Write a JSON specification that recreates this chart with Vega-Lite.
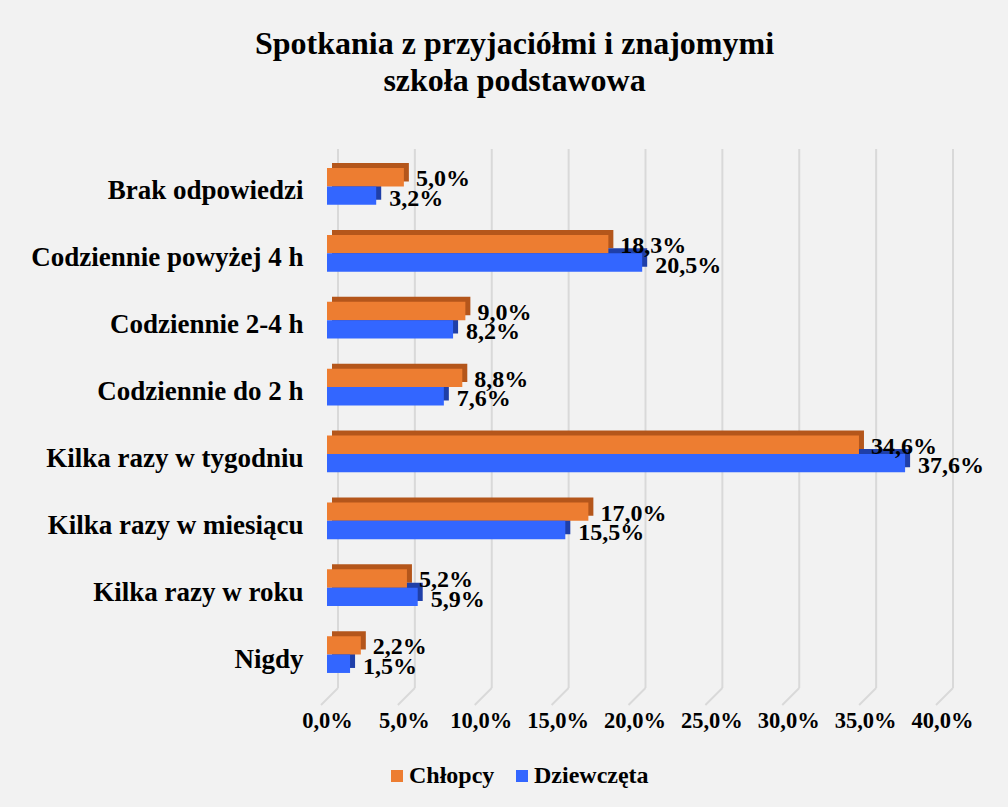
{
  "$schema": "https://vega.github.io/schema/vega-lite/v6.json",
  "autosize": {"type": "none"},
  "width": 615,
  "height": 535,
  "padding": {"left": 327, "top": 153, "right": 66, "bottom": 119},
  "background": "#f2f2f2",
  "title": {
    "text": ["Spotkania z przyjaciółmi i znajomymi", "szkoła podstawowa"],
    "font": "Liberation Serif",
    "fontSize": 32,
    "fontWeight": "bold",
    "color": "#000000",
    "lineHeight": 37,
    "anchor": "middle",
    "frame": "group",
    "dx": -120,
    "offset": 50
  },
  "datasets": {
    "siatka": [
      {"v": 0}, {"v": 0.05}, {"v": 0.1}, {"v": 0.15}, {"v": 0.2},
      {"v": 0.25}, {"v": 0.3}, {"v": 0.35}, {"v": 0.4}
    ]
  },
  "data": {
    "values": [
      {"kategoria": "Brak odpowiedzi", "grupa": "Chłopcy", "wartosc": 0.050},
      {"kategoria": "Brak odpowiedzi", "grupa": "Dziewczęta", "wartosc": 0.032},
      {"kategoria": "Codziennie powyżej 4 h", "grupa": "Chłopcy", "wartosc": 0.183},
      {"kategoria": "Codziennie powyżej 4 h", "grupa": "Dziewczęta", "wartosc": 0.205},
      {"kategoria": "Codziennie 2-4 h", "grupa": "Chłopcy", "wartosc": 0.090},
      {"kategoria": "Codziennie 2-4 h", "grupa": "Dziewczęta", "wartosc": 0.082},
      {"kategoria": "Codziennie do 2 h", "grupa": "Chłopcy", "wartosc": 0.088},
      {"kategoria": "Codziennie do 2 h", "grupa": "Dziewczęta", "wartosc": 0.076},
      {"kategoria": "Kilka razy w tygodniu", "grupa": "Chłopcy", "wartosc": 0.346},
      {"kategoria": "Kilka razy w tygodniu", "grupa": "Dziewczęta", "wartosc": 0.376},
      {"kategoria": "Kilka razy w miesiącu", "grupa": "Chłopcy", "wartosc": 0.170},
      {"kategoria": "Kilka razy w miesiącu", "grupa": "Dziewczęta", "wartosc": 0.155},
      {"kategoria": "Kilka razy w roku", "grupa": "Chłopcy", "wartosc": 0.052},
      {"kategoria": "Kilka razy w roku", "grupa": "Dziewczęta", "wartosc": 0.059},
      {"kategoria": "Nigdy", "grupa": "Chłopcy", "wartosc": 0.022},
      {"kategoria": "Nigdy", "grupa": "Dziewczęta", "wartosc": 0.015}
    ]
  },
  "layer": [
    {
      "data": {"name": "siatka"},
      "mark": {"type": "rule", "color": "#d9d9d9", "strokeWidth": 2, "xOffset": 11, "yOffset": -4},
      "encoding": {
        "x": {
          "field": "v",
          "type": "quantitative",
          "scale": {"domain": [0, 0.4], "nice": false},
          "axis": {
            "title": null,
            "domain": false,
            "ticks": false,
            "grid": false,
            "values": [0, 0.05, 0.1, 0.15, 0.2, 0.25, 0.3, 0.35, 0.4],
            "format": ".1%",
            "labelFont": "Liberation Serif",
            "labelFontSize": 22.5,
            "labelFontWeight": "bold",
            "labelColor": "#000000",
            "labelPadding": 21,
            "labelFlush": false
          }
        },
        "y": {"value": 0},
        "y2": {"value": "height"}
      }
    },
    {
      "data": {"name": "siatka"},
      "mark": {"type": "rule", "color": "#d9d9d9", "strokeWidth": 2, "xOffset": 11, "x2Offset": -6, "y2Offset": 17},
      "encoding": {
        "x": {"field": "v", "type": "quantitative"},
        "x2": {"field": "v"},
        "y": {"value": "height"},
        "y2": {"value": "height"}
      }
    },
    {
      "encoding": {
        "y": {
          "field": "kategoria",
          "type": "nominal",
          "sort": ["Brak odpowiedzi", "Codziennie powyżej 4 h", "Codziennie 2-4 h", "Codziennie do 2 h", "Kilka razy w tygodniu", "Kilka razy w miesiącu", "Kilka razy w roku", "Nigdy"],
          "scale": {"paddingInner": 0.45, "paddingOuter": 0.225},
          "axis": {
            "title": null,
            "domain": false,
            "ticks": false,
            "grid": false,
            "labelFont": "Liberation Serif",
            "labelFontSize": 27,
            "labelFontWeight": "bold",
            "labelColor": "#000000",
            "labelPadding": 24,
            "labelOffset": 5,
            "labelLimit": 400
          }
        },
        "x": {"field": "wartosc", "type": "quantitative"}
      },
      "layer": [
        {
          "transform": [{"filter": "datum.grupa === 'Chłopcy'"}],
          "mark": {"type": "bar", "height": {"band": 0.5}, "yOffset": -14.2, "xOffset": 5, "x2Offset": 5, "color": "#b4561b"}
        },
        {
          "transform": [{"filter": "datum.grupa === 'Dziewczęta'"}],
          "mark": {"type": "bar", "height": {"band": 0.5}, "yOffset": 4.2, "xOffset": 5, "x2Offset": 5, "color": "#1f3fa8"}
        },
        {
          "transform": [{"filter": "datum.grupa === 'Chłopcy'"}],
          "mark": {"type": "bar", "height": {"band": 0.5}, "yOffset": -9.2},
          "encoding": {
            "color": {
              "field": "grupa",
              "type": "nominal",
              "scale": {"domain": ["Chłopcy", "Dziewczęta"], "range": ["#ed7d31", "#3366ff"]},
              "legend": {
                "orient": "none",
                "legendX": 58,
                "legendY": 611,
                "direction": "horizontal",
                "title": null,
                "symbolType": "square",
                "symbolSize": 144,
                "symbolStrokeWidth": 0,
                "labelFont": "Liberation Serif",
                "labelFontSize": 24,
                "labelFontWeight": "bold",
                "labelColor": "#000000",
                "labelOffset": 0,
                "columnPadding": 15,
                "padding": 0
              }
            }
          }
        },
        {
          "transform": [{"filter": "datum.grupa === 'Dziewczęta'"}],
          "mark": {"type": "bar", "height": {"band": 0.5}, "yOffset": 9.2},
          "encoding": {
            "color": {"field": "grupa", "type": "nominal"}
          }
        },
        {
          "transform": [{"filter": "datum.grupa === 'Chłopcy'"}],
          "mark": {"type": "text", "align": "left", "baseline": "alphabetic", "dx": 12, "yOffset": -9.2, "dy": 9, "font": "Liberation Serif", "fontSize": 24, "fontWeight": "bold", "color": "#000000"},
          "encoding": {
            "text": {"field": "wartosc", "type": "quantitative", "format": ".1%"}
          }
        },
        {
          "transform": [{"filter": "datum.grupa === 'Dziewczęta'"}],
          "mark": {"type": "text", "align": "left", "baseline": "alphabetic", "dx": 13, "yOffset": 9.2, "dy": 10, "font": "Liberation Serif", "fontSize": 24, "fontWeight": "bold", "color": "#000000"},
          "encoding": {
            "text": {"field": "wartosc", "type": "quantitative", "format": ".1%"}
          }
        }
      ]
    }
  ],
  "config": {
    "view": {"stroke": null},
    "locale": {
      "number": {"decimal": ",", "thousands": " ", "grouping": [3], "currency": ["", " zł"]}
    }
  }
}
